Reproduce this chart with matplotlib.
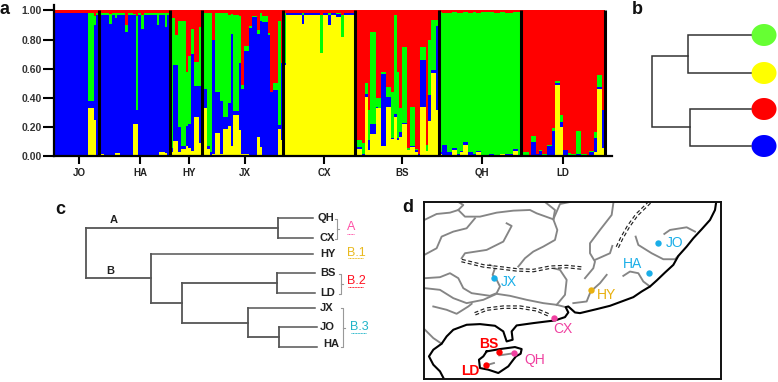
import matplotlib
matplotlib.use("Agg")
import matplotlib.pyplot as plt
import numpy as np

plt.rcParams['font.family'] = ['Liberation Sans', 'DejaVu Sans']

# ---------- panel a: each bar = cumulative top of (yellow, blue, green); red fills up to 1
_jo = (0, .98, .985)
jo_bars = [_jo]*13 + [(.335,.38,.985),(.335,.38,.985),(.25,.90,.96),(0,.97,.98)]
_ha = (0, .97, .985)
ha_bars = [(.015,.92,.98),(.015,.97,.985),_ha,_ha,(0,.91,.975),(.01,.97,.98),(.025,.95,.98),(.025,.97,.985),
           _ha,_ha,(0,.85,.90),_ha,_ha,(.22,.97,.975),(.22,.32,.96),_ha,(.01,.87,.97),(.01,.97,.98),
           _ha,_ha,_ha,_ha,(0,.90,.98),(.03,.97,.98),(.03,.97,.985),(.025,.89,.98),(.01,.97,.985)]
hy_bars = [(.03,.06,.95),(.105,.63,.95),(.105,.63,.83),(.03,.20,.93),(.05,.07,.93),(.05,.07,.93),
           (.07,.21,.58),(.06,.225,.69),(.04,.70,.87),(.27,.48,.65),(.27,.48,.65),(.09,.48,.89)]
jx_bars = [(.33,.46,.985),(.33,.46,.985),(.05,.07,.985),(0,.03,.985),(.02,.795,.80),(.16,.44,.985),(.16,.44,.985),
           (.02,.38,.985),(.19,.27,.985),(.19,.27,.985),(.21,.365,.97),(.07,.84,.975),(.285,.31,.97),(.285,.31,.97),
           (.18,.64,.96),(.02,.46,.49),(.02,.725,.76),(.02,.725,.76),(0,.88,.895),(.01,.955,.965),(.01,.955,.965),
           (.135,.84,.865),(.065,.925,.98),(0,.92,.965),(0,.92,.965),(0,.835,.845),(.005,.44,.445),(.012,.455,.50),
           (.012,.455,.50),(.19,.215,.93),(.11,.64,.64)]
_cx = (.97, .98, .985)
cx_bars = [(.63,.64,.98),_cx,_cx,_cx,_cx,_cx,_cx,(.91,.97,.985),_cx,_cx,_cx,_cx,_cx,_cx,(.71,.71,.97),_cx,_cx,
           (.90,.97,.985),_cx,_cx,(.955,.975,.985),(.955,.975,.985),(.82,.82,.97),_cx,_cx,_cx,_cx]
bs_bars = [(.31,.41,.685),(.05,.065,.11),(.05,.065,.11),(.01,.02,.09),(.41,.43,.50),(.045,.11,.32),(.155,.22,.855),
           (.155,.22,.855),(.33,.34,.40),(.33,.33,.40),(.07,.565,.58),(.07,.565,.58),(.34,.41,.475),(.34,.41,.475),
           (.12,.13,.445),(.27,.29,.97),(.115,.13,.58),(.135,.17,.33),(.225,.23,.75),(.225,.23,.75),(.045,.045,.06),
           (.065,.075,.34),(.065,.075,.34),(.03,.045,.05),(0,.02,.02),(.34,.66,.75),(.34,.66,.75),(.035,.035,.08),
           (.24,.42,.80),(.57,.59,.935),(.57,.59,.935),(.32,.895,.935)]
qh_bars = [(.02,.03,.99),(.01,.08,.985),(.01,.08,.985),(.005,.03,.985),(.005,.03,.985),(.045,.06,.99),(.045,.06,.99),
           (.01,.02,.985),(.03,.04,.985),(.08,.10,.99),(.08,.10,.99),(.005,.03,.985),(.005,.03,.985),(.005,.02,.99),
           (.03,.04,.985),(.03,.04,.985),(0,.01,.99),(0,.01,.99),(0,.01,.99),(.005,.015,.99),(.005,.015,.99),
           (.005,.012,.985),(.005,.012,.985),(.015,.02,.99),(.015,.02,.99),(.003,.015,.985),(.003,.015,.985),
           (.003,.015,.985),(.04,.05,.99),(.04,.05,.99),(0,.01,.99)]
ld_bars = [(0,.055,.06),(0,.012,.03),(0,.012,.03),(.005,.01,.012),(.012,.10,.137),(.012,.10,.137),(.01,.015,.02),
           (.007,.035,.045),(.003,.01,.015),(.003,.01,.015),(.007,.075,.08),(.007,.075,.08),(.012,.176,.195),
           (.49,.50,.515),(.49,.50,.515),(.205,.235,.285),(0,.045,.045),(0,.045,.045),(.003,.012,.025),(.003,.01,.015),
           (.003,.01,.015),(.007,.02,.175),(.007,.02,.175),(.005,.01,.015),(.005,.01,.015),(0,.005,.01),(0,.03,.04),
           (0,.03,.04),(.03,.125,.17),(.46,.475,.56),(.46,.475,.56),(.06,.32,.32)]
pops = ["JO", "HA", "HY", "JX", "CX", "BS", "QH", "LD"]
pop_bars = [jo_bars, ha_bars, hy_bars, jx_bars, cx_bars, bs_bars, qh_bars, ld_bars]
y_ticks = [0.0, 0.2, 0.4, 0.6, 0.8, 1.0]
colors_a = ["#ffff00", "#0000ff", "#00ff00", "#ff0000"]

# ---------- panels b and c
leaf_colors_b = ["#66ff33", "#ffff00", "#ff0000", "#0000ff"]
tree_c = (0, [(192, [(35, "QH"), (35, "CX")]),
              (65, [(162, "HY"),
                    (31, [(95, [(38, "BS"), (38, "LD")]),
                          (66, [(67, "JX"),
                                (31, [(38, "JO"), (38, "HA")])])])])])
leaf_y_c = {"QH": 218, "CX": 238, "HY": 254, "BS": 273, "LD": 293, "JX": 308, "JO": 327, "HA": 347}
groups_c = [("A", "#ff4fa5"), ("B.1", "#e9b91e"), ("B.2", "#ff1020"), ("B.3", "#1fb4c8")]

# ---------- panel d: map outlines
coast = [(948,40),(945,60),(930,90),(905,118),(880,145),(860,170),(835,198),(820,225),(795,248),(770,272),(750,290),(725,305),(700,322),(665,335),(630,348),(590,358),(540,370),(525,368),(505,350),(497,352),(505,368),(495,382),(465,392),(440,395),(400,400),(350,407),(335,425),(338,450),(320,455),(310,425),(285,408),(240,403),(200,405),(160,420),(140,440),(125,462),(100,480),(87,500),(100,525),(120,545),(132,568)]
island = [(260,485),(300,478),(345,472),(365,478),(362,492),(348,500),(340,510),(325,530),(295,550),(265,540),(240,535),(237,510),(250,500),(260,485)]
rivers = [
 [(73,90),(110,72),(150,68),(175,60),(190,45),(175,36)],
 [(175,60),(195,80),(240,80),(290,68),(340,62),(390,60),(410,70),(460,88)],
 [(435,36),(465,60),(460,88)],
 [(510,36),(480,42),(470,65),(460,88),(472,120),(465,150),(430,170),(400,185),(375,205),(355,230)],
 [(73,195),(110,175),(125,140),(160,125),(200,115),(225,85)],
 [(185,205),(195,190),(260,180),(310,155),(335,108),(320,100)],
 [(75,265),(120,262),(150,250),(175,265),(190,295),(215,310),(270,318),(290,310),(300,290),(290,270),(278,255),(285,235),(270,225)],
 [(75,295),(120,300),(160,325),(200,340),(250,330),(290,312),(330,318),(380,330),(430,340),(470,345),(497,352)],
 [(100,350),(140,360),(170,372),(205,350),(215,342)],
 [(470,345),(495,315),(500,270),(480,240),(460,235)],
 [(75,420),(100,445),(125,462)],
 [(520,340),(560,335),(572,305),(600,280),(620,255)],
 [(555,265),(580,235),(585,215),(570,190),(570,160),(600,120),(635,75),(640,40)],
 [(585,210),(630,190),(637,168)],
 [(707,140),(715,165),(755,190),(790,208),(825,208),(835,198)],
 [(793,132),(810,120),(860,112),(885,125)],
 [(670,258),(690,245),(715,250),(730,275),(750,290)],
 [(298,497),(345,490)],
 [(258,527),(282,520)],
]
rails = [
 [(185,212),(250,228),(310,235),(350,240),(400,242),(450,232),(500,230),(550,235)],
 [(225,372),(260,358),(310,352),(360,352),(410,360),(445,375)],
 [(652,172),(665,145),(685,110),(710,75),(750,36)],
]
sites = [("JX",282,265,327,275,"#1aaee8"),("JO",775,160,823,160,"#1aaee8"),("HA",747,248,697,222,"#1aaee8"),
         ("HY",572,300,620,317,"#e8b010"),("CX",463,385,488,418,"#f040a0"),("BS",298,488,265,462,"#ff0000"),
         ("QH",342,490,405,510,"#f040a0"),("LD",258,527,212,543,"#ff0000")]

W, H = 778, 382
fig = plt.figure(figsize=(W/100, H/100), dpi=100, facecolor="white")

def px_axes(x0, y0, x1, y1):
    return fig.add_axes([x0/W, 1-y1/H, (x1-x0)/W, (y1-y0)/H])

# ---- a
axa = px_axes(54, 4.5, 612, 156.5)
counts = [len(b) for b in pop_bars]
edges = np.cumsum([0]+counts)
arr = np.array([row for b in pop_bars for row in b], dtype=float)
Y, B, G = arr[:, 0], arr[:, 1], arr[:, 2]
X = np.arange(len(Y)) + .5
axa.bar(X, Y, 1.0, color=colors_a[0], lw=0)
axa.bar(X, B-Y, 1.0, bottom=Y, color=colors_a[1], lw=0)
axa.bar(X, G-B, 1.0, bottom=B, color=colors_a[2], lw=0)
axa.bar(X, 1-G, 1.0, bottom=G, color=colors_a[3], lw=0)
unit = 551/len(Y)
axa.set_xlim(0, 558/unit)
axa.set_ylim(0, 1.041)
axa.vlines(edges[1:], 0, 1.0, color="black", lw=2.2, zorder=5)
for s in ("top", "right"):
    axa.spines[s].set_visible(False)
for s in ("left", "bottom"):
    axa.spines[s].set_linewidth(1.6)
axa.set_yticks(y_ticks)
axa.set_yticklabels([f"{v:.2f}" for v in y_ticks], fontsize=7.5, fontweight="bold", color="#333333")
axa.tick_params(axis="y", length=8, width=1.5, pad=1)
axa.set_xticks([(c-54)/unit for c in (79, 140, 189, 245, 324, 402, 482, 563)])
axa.set_xticklabels(pops, fontsize=7, fontweight="bold", color="#222222")
axa.tick_params(axis="x", length=5.5, width=1.5, pad=2.5)

ov = px_axes(0, 0, W, H)
ov.set_xlim(0, W); ov.set_ylim(H, 0); ov.axis("off"); ov.patch.set_alpha(0)

for txt, x, y in (("a", 5, 10), ("b", 637, 10), ("c", 60, 209), ("d", 408, 208)):
    ov.text(x, y, txt, fontsize=13, fontweight="bold", ha="center", va="center", color="#111111")

# ---- b
lc_b = "#333333"
for nx, y0, y1 in [(688, 35, 73), (690, 109, 146)]:
    ov.plot([751, nx, nx, 751], [y0, y0, y1, y1], color=lc_b, lw=1.1, solid_joinstyle="miter")
ov.plot([688, 652, 652, 690], [56, 56, 127, 127], color=lc_b, lw=1.1, solid_joinstyle="miter")
for col, yc in zip(leaf_colors_b, (35, 73, 109, 146)):
    t = np.linspace(0, 2*np.pi, 80)
    ov.fill(764+12.5*np.cos(t), yc+11*np.sin(t), color=col, lw=0)

# ---- c
lc_c = "#555555"
def draw(node, x):
    length, kids = node
    x1 = x + length
    if isinstance(kids, str):
        ye = leaf_y_c[kids]
        ov.plot([x, x1], [ye, ye], color=lc_c, lw=1.1)
        return ye
    ys = [draw(k, x1) for k in kids]
    ov.plot([x1, x1], [min(ys), max(ys)], color=lc_c, lw=1.3)
    ym = (min(ys)+max(ys))/2
    ov.plot([x, x1], [ym, ym], color=lc_c, lw=1.3)
    return ym
draw(tree_c, 86)
leaf_lx = {"QH": 326, "CX": 327, "HY": 328, "BS": 328, "LD": 328, "JX": 327, "JO": 327, "HA": 331}
leaf_ly = dict(leaf_y_c, HA=344)
for k in leaf_lx:
    ov.text(leaf_lx[k], leaf_ly[k], k, fontsize=8, fontweight="bold", ha="center", va="center", color="#222222")
ov.text(114, 220, "A", fontsize=8, fontweight="bold", ha="center", va="center", color="#222222")
ov.text(110, 271, "B", fontsize=8, fontweight="bold", ha="center", va="center", color="#222222")
for xb, y0, y1 in ((337, 219, 239), (341, 274, 294), (343, 308, 347)):
    ov.plot([xb-2, xb, xb, xb-2], [y0, y0, y1, y1], color="#999999", lw=0.8)
    ov.plot([xb, xb+2], [(y0+y1)/2]*2, color="#999999", lw=0.8)
for (txt, col), x, y, yu in zip(groups_c, (351, 356, 356, 359), (227, 253, 281, 327), (234, 258, 287, 333)):
    ov.text(x, y, txt, fontsize=9, ha="center", va="center", color=col)
    hw = 3.5 if txt == "A" else 7.5
    ov.plot([x-hw, x+hw], [yu, yu], color=col, lw=0.7, ls=(0, (1, 0.6)))

# ---- d
axd = px_axes(424.3, 202, 721, 379)
axd.set_xlim(73, 963); axd.set_ylim(568, 36)
axd.set_xticks([]); axd.set_yticks([])
for s in axd.spines.values():
    s.set_linewidth(1.4); s.set_color("#111111")
for r in rivers:
    a = np.array(r); axd.plot(a[:, 0], a[:, 1], color="#858585", lw=1.35, solid_joinstyle="round")
for r in rails:
    a = np.array(r)
    axd.plot(a[:, 0], a[:, 1], color="#222222", lw=2.6, ls=(0, (1.1, 0.7)))
    axd.plot(a[:, 0], a[:, 1], color="white", lw=0.9)
for r in (coast, island):
    a = np.array(r); axd.plot(a[:, 0], a[:, 1], color="black", lw=1.5, solid_joinstyle="round")
for name, x, y, lx, ly, col in sites:
    axd.plot([x], [y], "o", color=col, ms=4.6, mew=0)
    axd.text(lx, ly, name, fontsize=10, color=col, ha="center", va="center",
             fontweight="bold" if name in ("BS", "LD") else "normal")

fig.savefig("out.png", dpi=100)
